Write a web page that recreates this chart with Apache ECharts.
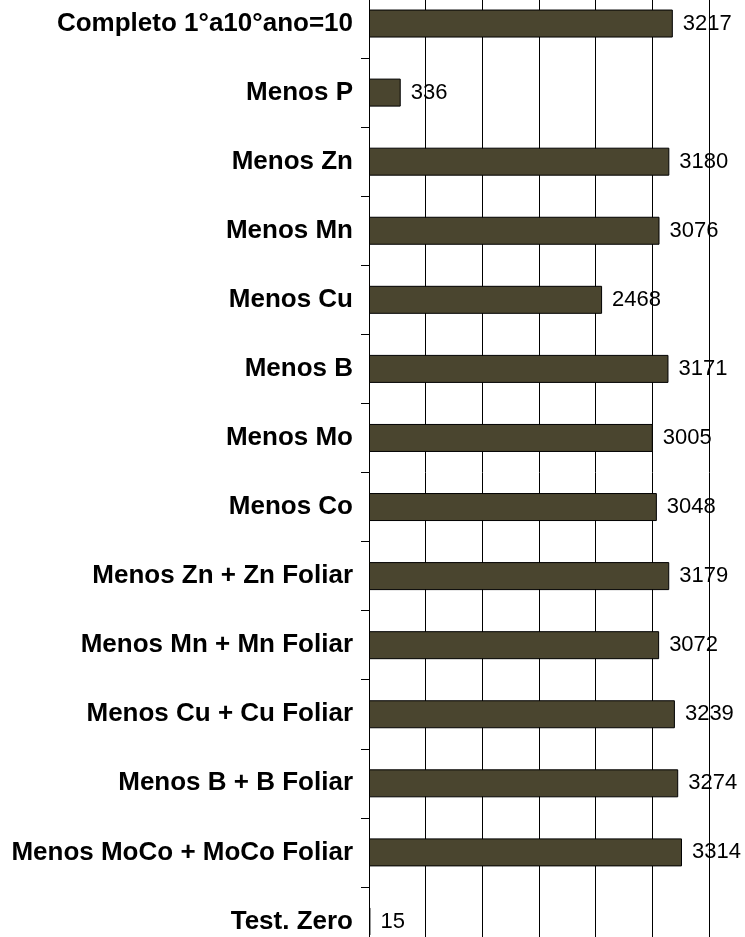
<!DOCTYPE html>
<html>
<head>
    <meta charset="utf-8"/>
    <title>Produtividade</title>
    <script src="https://cdn.jsdelivr.net/npm/echarts@6/dist/echarts.min.js"></script>
    <style>
        html, body { margin: 0; padding: 0; background: #fff; overflow: hidden; width: 745px; height: 937px; }
        /* a área do gráfico passa um pouco das bordas de cima e de baixo */
        #main { position: absolute; left: 0; top: -11px; width: 745px; height: 967px; }
    </style>
</head>
<body>
<div id="main"></div>
<script>
    // tratamentos (de cima para baixo)
    var categorias = ['Completo 1°a10°ano=10', 'Menos P', 'Menos Zn', 'Menos Mn', 'Menos Cu', 'Menos B',
        'Menos Mo', 'Menos Co', 'Menos Zn + Zn Foliar', 'Menos Mn + Mn Foliar', 'Menos Cu + Cu Foliar',
        'Menos B + B Foliar', 'Menos MoCo + MoCo Foliar', 'Test. Zero'];
    var valores = [3217, 336, 3180, 3076, 2468, 3171, 3005, 3048, 3179, 3072, 3239, 3274, 3314, 15];

    var eixoMin = 0;
    var eixoMax = 3600;
    var eixoIntervalo = 600;

    var fonte = "'Liberation Sans', Arial, sans-serif";

    var myChart = echarts.init(document.getElementById('main'));
    var option = {
        animation: false,
        backgroundColor: '#fff',
        grid: {
            left: 369,
            right: 36,
            top: 0,
            bottom: 0,
            containLabel: false
        },
        xAxis: {
            type: 'value',
            min: eixoMin,
            max: eixoMax,
            interval: eixoIntervalo,
            axisLine: { show: false },
            axisTick: { show: false },
            axisLabel: { show: false },
            splitLine: { show: true, lineStyle: { color: '#000', width: 1 } }
        },
        yAxis: {
            type: 'category',
            inverse: true,
            data: categorias,
            axisLine: { show: true, lineStyle: { color: '#000', width: 1 } },
            axisTick: { show: true, length: 8, lineStyle: { color: '#000' } },
            axisLabel: {
                margin: 16,
                color: '#000',
                fontFamily: fonte,
                fontWeight: 'bold',
                fontSize: 26
            }
        },
        series: [{
            type: 'bar',
            data: valores,
            barWidth: 28,
            itemStyle: {
                color: '#4a452f',
                borderColor: '#000',
                borderWidth: 1
            },
            label: {
                show: true,
                position: 'right',
                distance: 10,
                color: '#000',
                fontFamily: fonte,
                fontSize: 22
            }
        }]
    };
    myChart.setOption(option);
</script>
</body>
</html>
